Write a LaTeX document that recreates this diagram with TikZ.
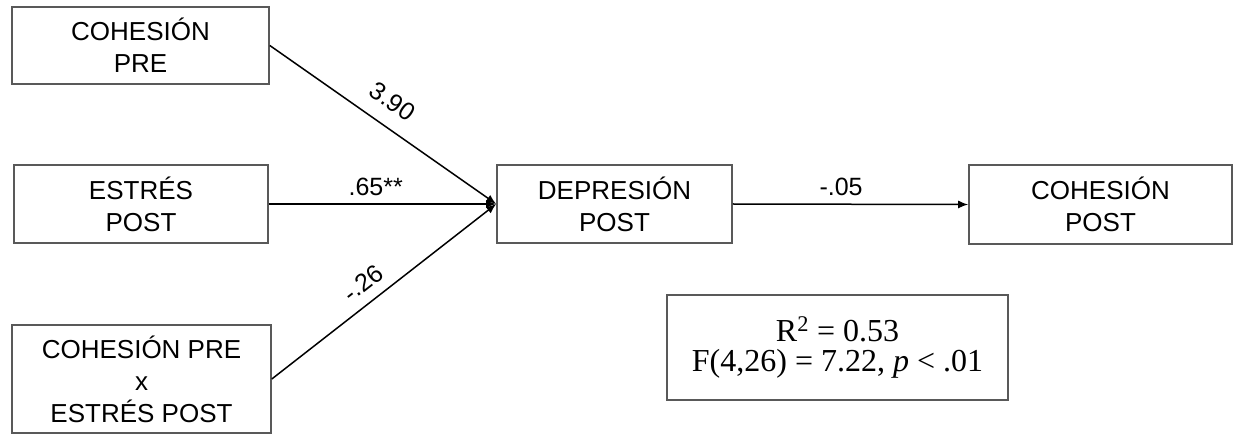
\documentclass[tikz,border=0pt]{standalone}
\usepackage{fontspec}
\setmainfont{Liberation Sans}
\newfontfamily\statfont{Liberation Serif}
\usetikzlibrary{arrows.meta}

\begin{document}
\begin{tikzpicture}[x=1pt,y=-1pt,
    var/.style={draw=black!65,line width=1.6pt,align=center,inner sep=0pt,
      font=\fontsize{26}{32}\selectfont},
    coef/.style={font=\fontsize{25}{28}\selectfont,inner sep=2pt}]
  \useasboundingbox (0,0) rectangle (1233,435);
  \draw
    (140.5,45.5) node[var,minimum width=257pt,minimum height=77pt] (cpre){COHESIÓN\\PRE}
    (141,204) node[var,minimum width=254pt,minimum height=78pt] (epost){ESTRÉS\\POST}
    (141.5,379) node[var,minimum width=259pt,minimum height=108pt] (inter){COHESIÓN PRE\\x\\ESTRÉS POST}
    (614.5,204) node[var,minimum width=235pt,minimum height=78pt] (dep){DEPRESIÓN\\POST}
    (1100.5,204.5) node[var,minimum width=263pt,minimum height=79pt] (cpost){COHESIÓN\\POST}
    (837.5,347.5) node[var,minimum width=341pt,minimum height=105pt,
      font=\statfont\fontsize{32}{30}\selectfont] (rsq){R\textsuperscript{2} = 0.53\\F(4,26) = 7.22, \textit{p} < .01};
  \begin{scope}[-{Latex[length=10pt,width=8pt]},line width=1.5pt]
    \draw (cpre.east) to node[coef,sloped,above=13pt,pos=0.48]{3.90} (dep.west);
    \draw (epost.east) to node[coef,above=6pt,pos=0.47]{.65**} (dep.west);
    \draw (inter.east) to node[coef,sloped,above=8pt,pos=0.46]{-.26} (dep.west);
    \draw (dep.east) to node[coef,above=6pt,pos=0.46]{-.05} (cpost.west);
  \end{scope}
\end{tikzpicture}
\end{document}
